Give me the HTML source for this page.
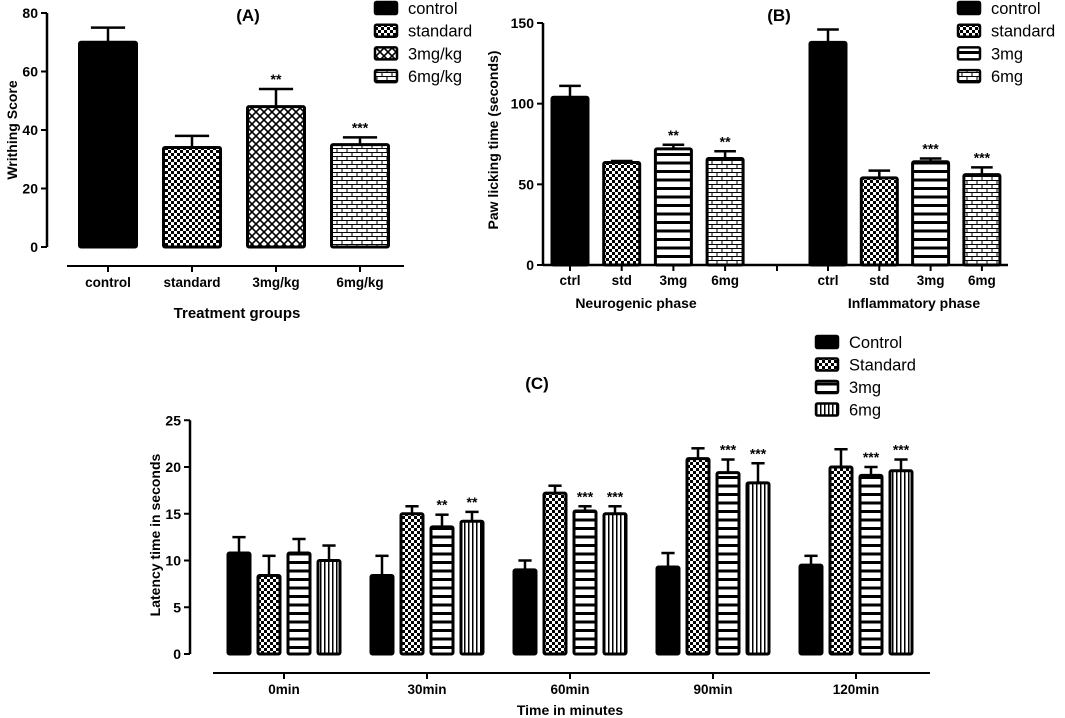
<!DOCTYPE html>
<html><head><meta charset="utf-8"><style>
body{margin:0;background:#fff}
svg{display:block;font-family:"Liberation Sans",Arial,sans-serif}
</style></head><body>
<svg id="s" width="1065" height="718" viewBox="0 0 1065 718" xmlns="http://www.w3.org/2000/svg">
<defs>
<pattern id="p-check" width="6" height="6" patternUnits="userSpaceOnUse"><rect width="6" height="6" fill="#fff"/><rect width="3" height="3" fill="#000"/><rect x="3" y="3" width="3" height="3" fill="#000"/></pattern>
<pattern id="p-cross" width="8" height="8" patternUnits="userSpaceOnUse"><rect width="8" height="8" fill="#fff"/><path d="M0 0L8 8M8 0L0 8" stroke="#000" stroke-width="1.6"/></pattern>
<pattern id="p-brick" width="10" height="8" patternUnits="userSpaceOnUse"><rect width="10" height="8" fill="#fff"/><path d="M0 0.5H10M0 4.5H10M2 0V4M7 4V8" stroke="#000" stroke-width="1"/></pattern>
<pattern id="p-hstripe" width="8" height="8.5" patternUnits="userSpaceOnUse"><rect width="8" height="8.5" fill="#fff"/><rect y="0" width="8" height="3" fill="#000"/></pattern>
<pattern id="p-vstripe" width="4" height="8" patternUnits="userSpaceOnUse"><rect width="4" height="8" fill="#fff"/><rect width="1.5" height="8" fill="#000"/></pattern>
</defs>
</svg>
<script>
// Panel A data
const aCategories = ["control","standard","3mg/kg","6mg/kg"];
const aValues = [70, 34, 48, 35];
const aErrors = [5, 4, 6, 2.5];
const aStars = ["", "", "**", "***"];
const aTicks = [0, 20, 40, 60, 80];
// Panel B data
const bCategories = ["ctrl","std","3mg","6mg"];
const bNeuroValues = [104, 63.5, 72, 66];
const bNeuroErrors = [7, 1, 2.5, 4.5];
const bNeuroStars = ["", "", "**", "**"];
const bInflamValues = [138, 54, 64, 56];
const bInflamErrors = [8, 4.5, 2, 4.5];
const bInflamStars = ["", "", "***", "***"];
const bTicks = [0, 50, 100, 150];
// Panel C data
const cCategories = ["0min","30min","60min","90min","120min"];
const cControl = [10.8, 8.4, 9.0, 9.3, 9.5];
const cControlErr = [1.7, 2.1, 1.0, 1.5, 1.0];
const cStandard = [8.4, 15.0, 17.2, 20.9, 20.0];
const cStandardErr = [2.1, 0.8, 0.8, 1.1, 1.9];
const c3mg = [10.8, 13.6, 15.3, 19.4, 19.1];
const c3mgErr = [1.5, 1.3, 0.5, 1.4, 0.9];
const c6mg = [10.0, 14.2, 15.0, 18.3, 19.6];
const c6mgErr = [1.6, 1.0, 0.8, 2.1, 1.2];
const cStars = [["","","",""],["","","**","**"],["","","***","***"],["","","***","***"],["","","***","***"]];
const cTicks = [0, 5, 10, 15, 20, 25];

const NS = "http://www.w3.org/2000/svg";
const svg = document.getElementById('s');
function el(tag, attrs, parent, text){
  const e = document.createElementNS(NS, tag);
  for (const k in attrs) e.setAttribute(k, attrs[k]);
  if (text !== undefined) e.textContent = text;
  (parent || svg).appendChild(e);
  return e;
}
function txt(x, y, s, size, anchor, weight, parent, rot){
  const t = el('text', {x:x, y:y, 'font-size':size, 'text-anchor':anchor||'middle', 'font-weight':weight||'bold', fill:'#000'}, parent, s);
  if (rot) t.setAttribute('transform', 'rotate(-90 '+x+' '+y+')');
  return t;
}
function bar(g, cx, w, y0, yv, yerr, fill, star, name){
  const b = el('rect', {x:cx-w/2, y:yv, width:w, height:y0-yv, fill:fill, stroke:'#000', 'stroke-width':3, rx:1.5}, g);
  
  
  el('line', {x1:cx, y1:yv, x2:cx, y2:yerr, stroke:'#000', 'stroke-width':2.5}, g);
  el('line', {x1:cx-w*0.3, y1:yerr, x2:cx+w*0.3, y2:yerr, stroke:'#000', 'stroke-width':2.5}, g);
  if (star) txt(cx, yerr-5, star, 14, 'middle', 'bold', g);
}
function yAxis(g, x, yScale, ticks, fs){
  const ax = el('line', {x1:x, y1:yScale(ticks[0]), x2:x, y2:yScale(ticks[ticks.length-1]), stroke:'#000', 'stroke-width':2.5}, g);
  
  
  ticks.forEach(v => {
    el('line', {x1:x-6, y1:yScale(v), x2:x, y2:yScale(v), stroke:'#000', 'stroke-width':2}, g);
    txt(x-9, yScale(v)+5, String(v), fs, 'end', 'bold', g);
  });
}
function legend(g, x, y0, dy, labels, fills, names){
  labels.forEach((l, i) => {
    const y = y0 + i*dy;
    const sw = el('rect', {x:x, y:y-6, width:22, height:12, fill:fills[i], stroke:'#000', 'stroke-width':2.5, rx:1.5}, g);
    
    
    const t = txt(x+33, y+6, l, 16.5, 'start', 'normal', g);
    
    
  });
}

// ---------- Panel A ----------
const gA = el('g', {});
const aY = v => 247 - v * (234/80);
const aX = i => 108 + i * 84;
yAxis(gA, 47, aY, aTicks, 14);
const aFills = ['#000','url(#p-check)','url(#p-cross)','url(#p-brick)'];
aCategories.forEach((c, i) => {
  bar(gA, aX(i), 57, aY(0), aY(aValues[i]), aY(aValues[i]+aErrors[i]), aFills[i], aStars[i], 'bar-a-'+c);
});
el('line', {x1:67, y1:266, x2:404, y2:266, stroke:'#000', 'stroke-width':2}, gA);
aCategories.forEach((c, i) => {
  el('line', {x1:aX(i), y1:266, x2:aX(i), y2:272, stroke:'#000', 'stroke-width':2}, gA);
  txt(aX(i), 287, c, 13.5, 'middle', 'bold', gA);
});
txt(237, 318, 'Treatment groups', 15, 'middle', 'bold', gA);
txt(17, 130, 'Writhing Score', 14, 'middle', 'bold', gA, true);
txt(248, 21, '(A)', 17, 'middle', 'bold', gA);
legend(gA, 375, 8, 22.7, aCategories, aFills, aCategories);

// ---------- Panel B ----------
const gB = el('g', {});
const bY = v => 265 - v * (242/150);
const bXn = i => 570 + i * 51.7;
const bXi = i => 828 + i * 51.3;
yAxis(gB, 543, bY, bTicks, 14);
el('line', {x1:543, y1:265, x2:1008, y2:265, stroke:'#000', 'stroke-width':2.5}, gB);
const bFills = ['#000','url(#p-check)','url(#p-hstripe)','url(#p-brick)'];
bCategories.forEach((c, i) => {
  bar(gB, bXn(i), 36, bY(0), bY(bNeuroValues[i]), bY(bNeuroValues[i]+bNeuroErrors[i]), bFills[i], bNeuroStars[i], 'bar-b-neuro-'+c);
  bar(gB, bXi(i), 36, bY(0), bY(bInflamValues[i]), bY(bInflamValues[i]+bInflamErrors[i]), bFills[i], bInflamStars[i], 'bar-b-inflam-'+c);
  [bXn(i), bXi(i)].forEach(x => {
    el('line', {x1:x, y1:265, x2:x, y2:271, stroke:'#000', 'stroke-width':2}, gB);
    txt(x, 285, c, 13.5, 'middle', 'bold', gB);
  });
});
el('line', {x1:777, y1:265, x2:777, y2:271, stroke:'#000', 'stroke-width':2}, gB);
txt(636, 308, 'Neurogenic phase', 14, 'middle', 'bold', gB);
txt(914, 308, 'Inflammatory phase', 14, 'middle', 'bold', gB);
txt(498, 140, 'Paw licking time (seconds)', 14, 'middle', 'bold', gB, true);
txt(779, 21, '(B)', 17, 'middle', 'bold', gB);
legend(gB, 958, 8, 22.7, ['control','standard','3mg','6mg'], bFills, ['control','standard','3mg','6mg']);

// ---------- Panel C ----------
const gC = el('g', {});
const cY = v => 654 - v * (187/20);
const cX = i => 284 + i * 143;
const cOff = [-45, -15, 15, 45];
yAxis(gC, 190, cY, cTicks, 14);
const cFills = ['#000','url(#p-check)','url(#p-hstripe)','url(#p-vstripe)'];
const cSeries = [cControl, cStandard, c3mg, c6mg];
const cErrs = [cControlErr, cStandardErr, c3mgErr, c6mgErr];
const cNames = ['control','standard','3mg','6mg'];
cCategories.forEach((c, i) => {
  cSeries.forEach((s, j) => {
    bar(gC, cX(i)+cOff[j], 22, cY(0), cY(s[i]), cY(s[i]+cErrs[j][i]), cFills[j], cStars[i][j], 'bar-c-'+c+'-'+cNames[j]);
  });
});
el('line', {x1:213, y1:673, x2:930, y2:673, stroke:'#000', 'stroke-width':2}, gC);
cCategories.forEach((c, i) => {
  el('line', {x1:cX(i), y1:673, x2:cX(i), y2:679, stroke:'#000', 'stroke-width':2}, gC);
  txt(cX(i), 694, c, 13.5, 'middle', 'bold', gC);
});
txt(570, 715, 'Time in minutes', 14, 'middle', 'bold', gC);
txt(160, 535, 'Latency time in seconds', 14, 'middle', 'bold', gC, true);
txt(537, 389, '(C)', 17, 'middle', 'bold', gC);
legend(gC, 816, 342, 22.5, ['Control','Standard','3mg','6mg'], cFills, cNames);
</script>
</body></html>
